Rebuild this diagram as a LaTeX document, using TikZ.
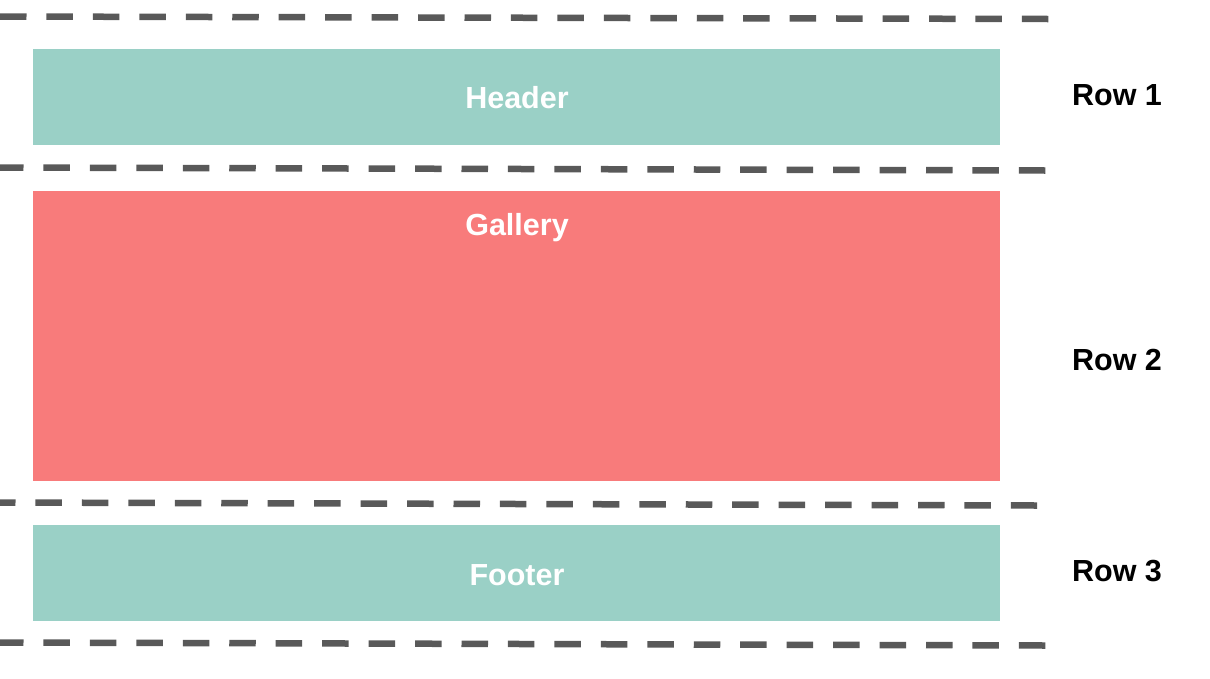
\documentclass[tikz,border=0pt]{standalone}
\usepackage{fontspec}
\setmainfont{Liberation Sans}
\definecolor{tealbox}{HTML}{9AD0C6}
\definecolor{redbox}{HTML}{F87B7B}
\definecolor{dashgray}{HTML}{595959}
\begin{document}
\begin{tikzpicture}[x=1pt,y=-1pt,
  boxstyle/.style={draw=none,minimum width=967pt,inner sep=0pt,outer sep=0pt,anchor=north west},
  boxlabel/.style={font=\fontsize{30.5}{36}\selectfont\bfseries,text=white,inner sep=0pt,anchor=base},
  rowlabel/.style={font=\fontsize{30.5}{36}\selectfont\bfseries,text=black,inner sep=0pt,anchor=base},
  sepline/.style={draw=dashgray,line width=6.5pt,dash pattern=on 26.5pt off 19.95pt}]
\useasboundingbox (0,0) rectangle (1210,678);
% boxes
\node[boxstyle,fill=tealbox,minimum height=96pt] (header) at (33,49) {};
\node[boxstyle,fill=redbox,minimum height=290pt] (gallery) at (33,191) {};
\node[boxstyle,fill=tealbox,minimum height=96pt] (footer) at (33,525) {};
\node[boxlabel] (headerlabel) at (517,108.5) {Header};
\node[boxlabel] (gallerylabel) at (517,235) {Gallery};
\node[boxlabel] (footerlabel) at (517,585) {Footer};
% row labels
\node[rowlabel] (row1) at (1117,105) {Row 1};
\node[rowlabel] (row2) at (1117,370) {Row 2};
\node[rowlabel] (row3) at (1117,581) {Row 3};
% dashed separators
\coordinate (l1a) at (0,16.5);  \coordinate (l1b) at (1048.5,19);
\coordinate (l2a) at (0,167.5); \coordinate (l2b) at (1046,170.5);
\coordinate (l3a) at (0,502.5); \coordinate (l3b) at (1037,505.5);
\coordinate (l4a) at (0,642.5); \coordinate (l4b) at (1046,645.5);
\draw[sepline] (l1a) -- (l1b);
\draw[sepline,dash phase=3pt] (l2a) -- (l2b);
\draw[sepline,dash phase=11pt] (l3a) -- (l3b);
\draw[sepline,dash phase=3pt] (l4a) -- (l4b);
\end{tikzpicture}
\end{document}
